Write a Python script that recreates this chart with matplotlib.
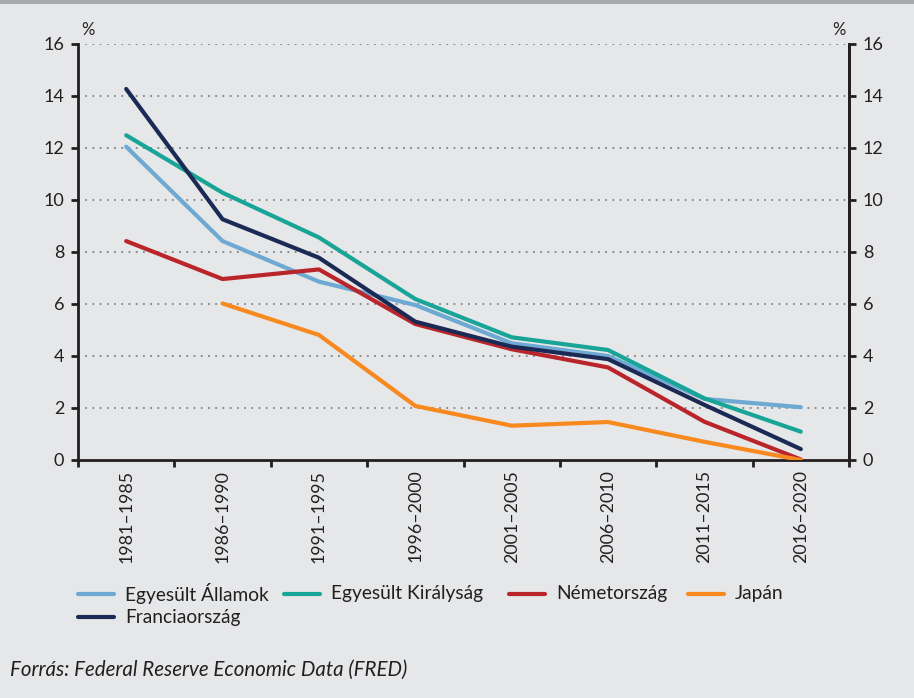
import matplotlib
matplotlib.use("Agg")
import matplotlib.pyplot as plt
from matplotlib.lines import Line2D
import numpy as np

periods = ["1981–1985", "1986–1990", "1991–1995", "1996–2000",
           "2001–2005", "2006–2010", "2011–2015", "2016–2020"]
us = [12.05, 8.42, 6.86, 5.96, 4.49, 4.0, 2.35, 2.03]
uk = [12.49, 10.28, 8.56, 6.19, 4.72, 4.23, 2.37, 1.09]
germany = [8.42, 6.96, 7.33, 5.23, 4.26, 3.56, 1.47, 0.02]
japan = [np.nan, 6.02, 4.81, 2.08, 1.32, 1.46, 0.70, 0.0]
france = [14.27, 9.26, 7.78, 5.32, 4.36, 3.88, 2.12, 0.42]

names = ["Egyesült Államok", "Egyesült Királyság", "Németország", "Japán", "Franciaország"]
colors = ["#6EA9D3", "#18A497", "#B9252B", "#F7891F", "#1B2A55"]
series = [us, uk, germany, japan, france]

yticks = [0, 2, 4, 6, 8, 10, 12, 14, 16]

plt.rcParams['font.family'] = ['Lato', 'DejaVu Sans']
BG = "#E6E7E8"
TXT = "#231F20"
W, H = 914, 698
fig = plt.figure(figsize=(W / 100, H / 100), dpi=100, facecolor=BG)

# top grey band
fig.add_artist(plt.Rectangle((0, 1 - 4 / H), 1, 4 / H, transform=fig.transFigure,
                             facecolor="#A7A9AC", edgecolor="none"))

ax = fig.add_axes([78 / W, 1 - 460 / H, (849 - 78) / W, (460 - 44) / H])
ax.set_facecolor(BG)
x = np.arange(len(periods))
for s, c in zip(series, colors):
    ax.plot(x, s, color=c, lw=3.0, solid_capstyle='round', solid_joinstyle='round', zorder=3)

ax.set_xlim(-0.5, len(periods) - 0.5)
ax.set_ylim(0, 16)
ax.set_yticks(yticks)
ax.set_yticklabels([str(v) for v in yticks])
for v in yticks[1:]:
    ax.axhline(v, color="#808285", lw=1.3, ls=(0, (1.0, 3.0)), zorder=1)

ax.set_xticks(x)
ax.set_xticklabels(periods, rotation=90, fontsize=12.8, color=TXT)
ax.tick_params(axis='x', which='major', length=0, pad=7)
ax.set_xticks(np.arange(len(periods) + 1) - 0.5, minor=True)
ax.tick_params(axis='x', which='minor', length=5, width=2, direction='out', color=TXT)
ax.tick_params(axis='y', length=5, width=2, direction='out', labelsize=13,
               color=TXT, labelcolor=TXT, pad=5)

ax.spines['top'].set_visible(False)
for sp in ['left', 'bottom', 'right']:
    ax.spines[sp].set_linewidth(2)
    ax.spines[sp].set_color(TXT)

ax2 = ax.twinx()
ax2.set_ylim(0, 16)
ax2.set_yticks(yticks)
ax2.set_yticklabels([str(v) for v in yticks])
ax2.tick_params(axis='y', length=5, width=2, direction='out', labelsize=13,
                color=TXT, labelcolor=TXT, pad=5)
for sp in ['top', 'left', 'bottom']:
    ax2.spines[sp].set_visible(False)
ax2.spines['right'].set_linewidth(2)
ax2.spines['right'].set_color(TXT)

fig.text(81 / W, 1 - 30 / H, "%", fontsize=12, color=TXT, va='center')
fig.text(832 / W, 1 - 30 / H, "%", fontsize=12, color=TXT, va='center')

# legend
leg_pos = [(78, 594), (284, 594), (509, 594), (688, 594), (78, 617)]
for (lx, ly), nm, c in zip(leg_pos, names, colors):
    fig.add_artist(Line2D([lx / W, (lx + 36) / W], [1 - ly / H, 1 - ly / H],
                          transform=fig.transFigure, color=c, lw=3.0, solid_capstyle='round'))
    fig.text((lx + 47) / W, 1 - ly / H, nm, fontsize=13.8, color=TXT, va='center')

fig.text(10 / W, 1 - 670 / H, "Forrás: Federal Reserve Economic Data (FRED)",
         fontsize=14.8, style='italic', color=TXT, va='center')

fig.savefig("out.png", dpi=100, facecolor=BG)
